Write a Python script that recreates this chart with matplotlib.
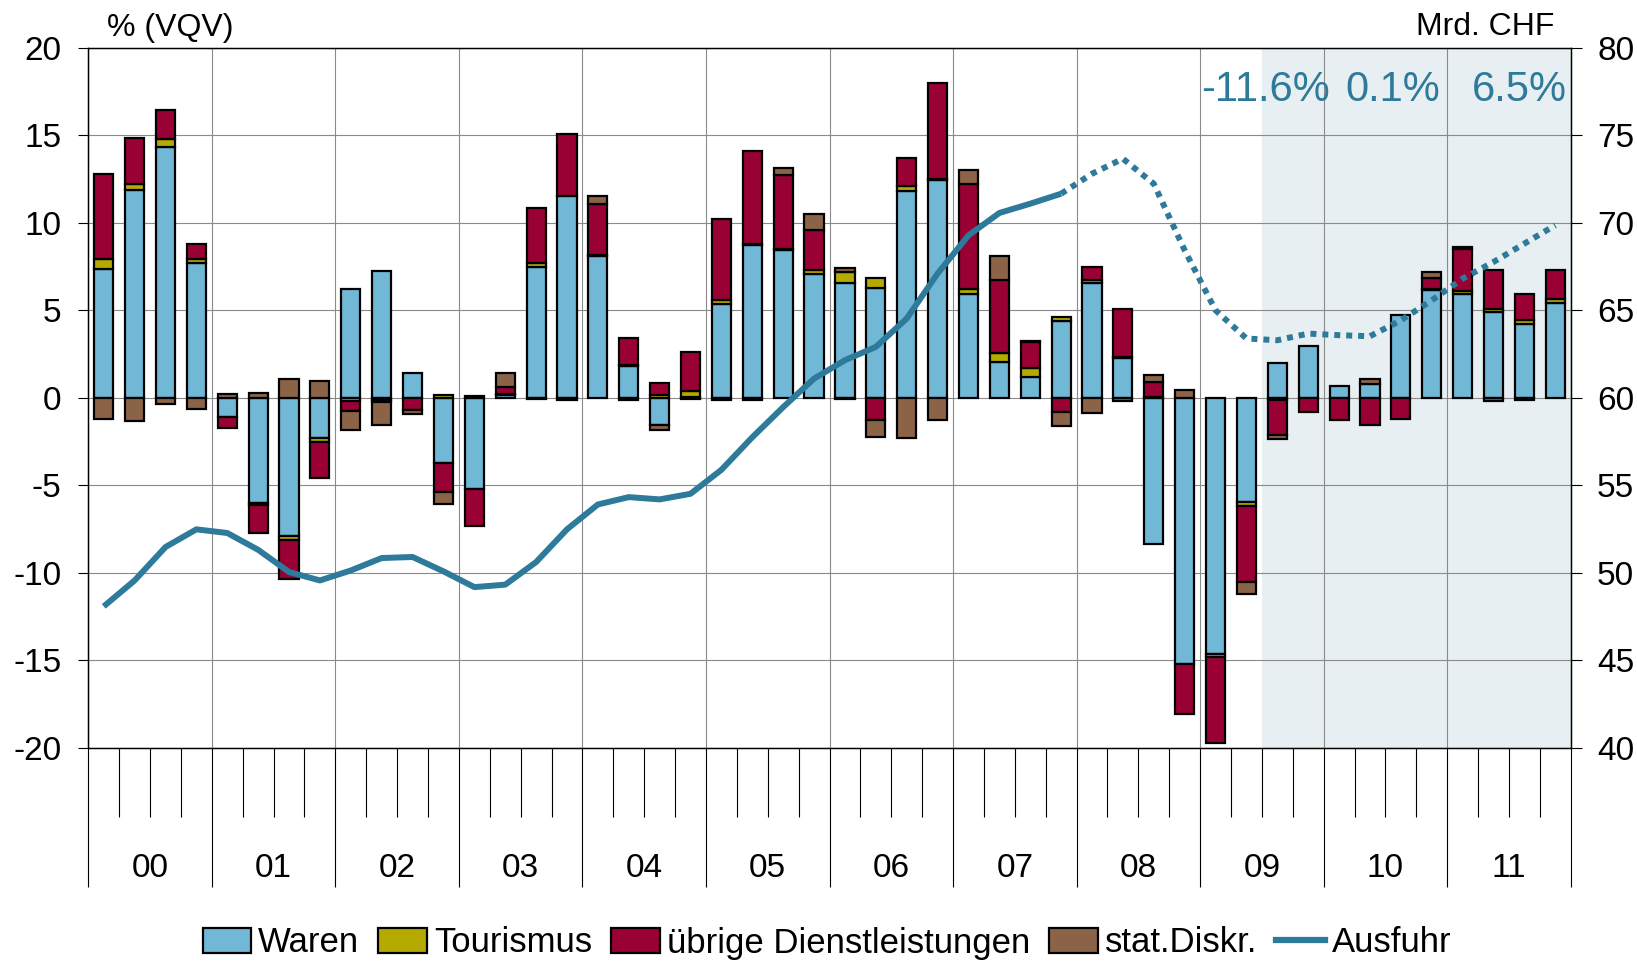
import numpy as np
import matplotlib
matplotlib.use("Agg")
import matplotlib.pyplot as plt
from matplotlib.patches import Patch
from matplotlib.lines import Line2D

plt.rcParams['font.family'] = ['Liberation Sans', 'DejaVu Sans']
plt.rcParams['axes.unicode_minus'] = False

# ---------------- data ----------------
years = ['00', '01', '02', '03', '04', '05', '06', '07', '08', '09', '10', '11']

waren = [7.34, 11.87, 14.33, 7.71,
         -1.10, -6.00, -7.91, -2.28,
         6.24, 7.23, 1.41, -3.71,
         -5.19, 0.15, 7.48, 11.53,
         8.09, 1.80, -1.54, 0.05,
         5.38, 8.71, 8.47, 7.06,
         6.56, 6.28, 11.80, 12.46,
         5.96, 2.05, 1.20, 4.38,
         6.58, 2.28, -8.35, -15.22,
         -14.61, -5.96, 2.00, 2.95,
         0.68, 0.78, 4.76, 6.18,
         5.92, 4.91, 4.24, 5.42]

tourismus = [0.57, 0.36, 0.43, 0.20,
             0.0, -0.10, -0.23, -0.27,
             -0.19, -0.10, 0.0, 0.15,
             0.08, 0.05, 0.23, 0.0,
             0.05, 0.05, 0.15, 0.35,
             0.23, 0.05, 0.05, 0.23,
             0.63, 0.59, 0.32, 0.05,
             0.26, 0.52, 0.53, 0.24,
             0.14, 0.03, 0.05, 0.0,
             -0.19, -0.22, -0.10, 0.0,
             0.0, 0.0, 0.0, 0.03,
             0.18, 0.19, 0.23, 0.25]

uebrige = [4.86, 2.63, 1.68, 0.86,
           -0.63, -1.60, -2.23, -2.02,
           -0.57, -0.15, -0.72, -1.64,
           -2.14, 0.40, 3.13, 3.56,
           2.95, 1.57, 0.67, 2.20,
           4.59, 5.34, 4.19, 2.28,
           -0.08, -1.29, 1.60, 5.47,
           5.98, 4.15, 1.47, -0.82,
           0.76, 2.75, 0.83, -2.84,
           -4.91, -4.36, -2.05, -0.78,
           -1.27, -1.54, -1.20, 0.62,
           2.39, 2.22, 1.45, 1.62]

stat_diskr = [-1.20, -1.31, -0.34, -0.63,
              0.21, 0.27, 1.05, 0.95,
              -1.10, -1.30, -0.19, -0.74,
              0.0, 0.83, -0.05, -0.12,
              0.44, -0.10, -0.32, -0.05,
              -0.10, -0.12, 0.42, 0.95,
              0.23, -0.92, -2.28, -1.29,
              0.79, 1.37, 0.05, -0.80,
              -0.88, -0.19, 0.45, 0.44,
              0.0, -0.65, -0.21, 0.0,
              0.0, 0.27, 0.0, 0.36,
              0.11, -0.20, -0.15, 0.0]

ausfuhr = [48.09, 49.57, 51.48, 52.49,
           52.28, 51.32, 50.05, 49.57,
           50.14, 50.85, 50.91, 50.09,
           49.19, 49.33, 50.62, 52.49,
           53.91, 54.33, 54.20, 54.52,
           55.89, 57.75, 59.47, 61.10,
           62.15, 62.91, 64.53, 67.10,
           69.28, 70.56, 71.09, 71.66,
           72.80, 73.66, 72.23, 68.43,
           65.00, 63.39, 63.29, 63.67,
           63.58, 63.52, 64.43, 65.57,
           66.81, 67.76, 68.81, 69.86]
n_actual = 32  # quarters with solid line (through 2007Q4)

growth_labels = ['-11.6%', '0.1%', '6.5%']
series_names = ['Waren', 'Tourismus', 'übrige Dienstleistungen', 'stat.Diskr.']
line_name = 'Ausfuhr'

# ---------------- style ----------------
colors = ['#70B8D6', '#B5AA00', '#990033', '#8B6347']
line_color = '#2E7A9A'
shade_color = '#E8EFF3'
grid_color = '#8a8a8a'

W, H = 1637, 961
fig = plt.figure(figsize=(W / 100, H / 100), dpi=100)
left, right, top, bottom = 88.3, 1570.7, 47.7, 748.0
ax = fig.add_axes([left / W, 1 - bottom / H, (right - left) / W, (bottom - top) / H])

nq = len(waren)
x = np.arange(nq)

# shading for forecast period
ax.axvspan(37.5, nq - 0.5, color=shade_color, zorder=0, lw=0)

# stacked bars: positives up, negatives down
pos_base = np.zeros(nq)
neg_base = np.zeros(nq)
for vals, col in zip([waren, tourismus, uebrige, stat_diskr], colors):
    v = np.array(vals, dtype=float)
    p = v > 0
    ng = v < 0
    ax.bar(x[p], v[p], bottom=pos_base[p], width=0.62, color=col,
           edgecolor='black', linewidth=1.6, zorder=2)
    ax.bar(x[ng], v[ng], bottom=neg_base[ng], width=0.62, color=col,
           edgecolor='black', linewidth=1.6, zorder=2)
    pos_base[p] += v[p]
    neg_base[ng] += v[ng]

ax.set_xlim(-0.5, nq - 0.5)
ax.set_ylim(-20, 20)
ax.set_yticks(np.arange(-20, 21, 5))
ax.set_axisbelow(True)
ax.grid(axis='y', color=grid_color, lw=0.8)

# category axis: year boundaries (long) and quarter boundaries (short)
year_b = np.arange(-0.5, nq, 4)
quarter_b = [b for b in np.arange(-0.5, nq, 1) if b not in year_b]
ax.set_xticks(year_b)
ax.set_xticks(quarter_b, minor=True)
ax.set_xticklabels([])
ax.tick_params(axis='x', which='major', length=100, width=0.8, direction='out', color='black')
ax.tick_params(axis='x', which='minor', length=50, width=0.8, direction='out', color='black')
ax.grid(axis='x', which='major', color=grid_color, lw=0.8)
for i, yl in enumerate(years):
    ax.text(4 * i + 1.5, -0.172, yl, transform=ax.get_xaxis_transform(),
            ha='center', va='center', fontsize=24)

ax.tick_params(axis='y', length=7.2, width=0.8, pad=12, labelsize=24)
for s in ax.spines.values():
    s.set_linewidth(1.0)
    s.set_color('black')

# secondary axis with export line
ax2 = ax.twinx()
ax2.set_ylim(40, 80)
ax2.set_yticks(np.arange(40, 81, 5))
ax2.tick_params(axis='y', length=8, width=0.8, pad=11, labelsize=24)
a = np.array(ausfuhr)
ax2.plot(x[:n_actual], a[:n_actual], color=line_color, lw=4.3, solid_capstyle='butt', zorder=5)
ax2.plot(x[n_actual - 1:], a[n_actual - 1:], color=line_color, lw=4.3,
         linestyle=(0, (1, 1)), dash_capstyle='butt', zorder=5)

# growth labels
for gx, gl in zip([37.63, 41.74, 45.85], growth_labels):
    ax.text(gx, 16.95, gl, ha='center', va='baseline', fontsize=30, color=line_color, zorder=6)

# axis titles
fig.text(170 / W, 1 - 36 / H, '% (VQV)', ha='center', va='baseline', fontsize=23)
fig.text(1485 / W, 1 - 35 / H, 'Mrd. CHF', ha='center', va='baseline', fontsize=23)

# legend
handles = [Patch(facecolor=c, edgecolor='black', linewidth=1.6) for c in colors]
handles.append(Line2D([0], [0], color=line_color, lw=4.5))
fig.legend(handles, series_names + [line_name], loc='center', ncol=5,
           bbox_to_anchor=(827 / W, 1 - 943 / H), frameon=False, fontsize=25,
           handlelength=1.4, handleheight=0.7, handletextpad=0.2,
           columnspacing=0.55, borderaxespad=0)

fig.savefig('out.png', dpi=100)
